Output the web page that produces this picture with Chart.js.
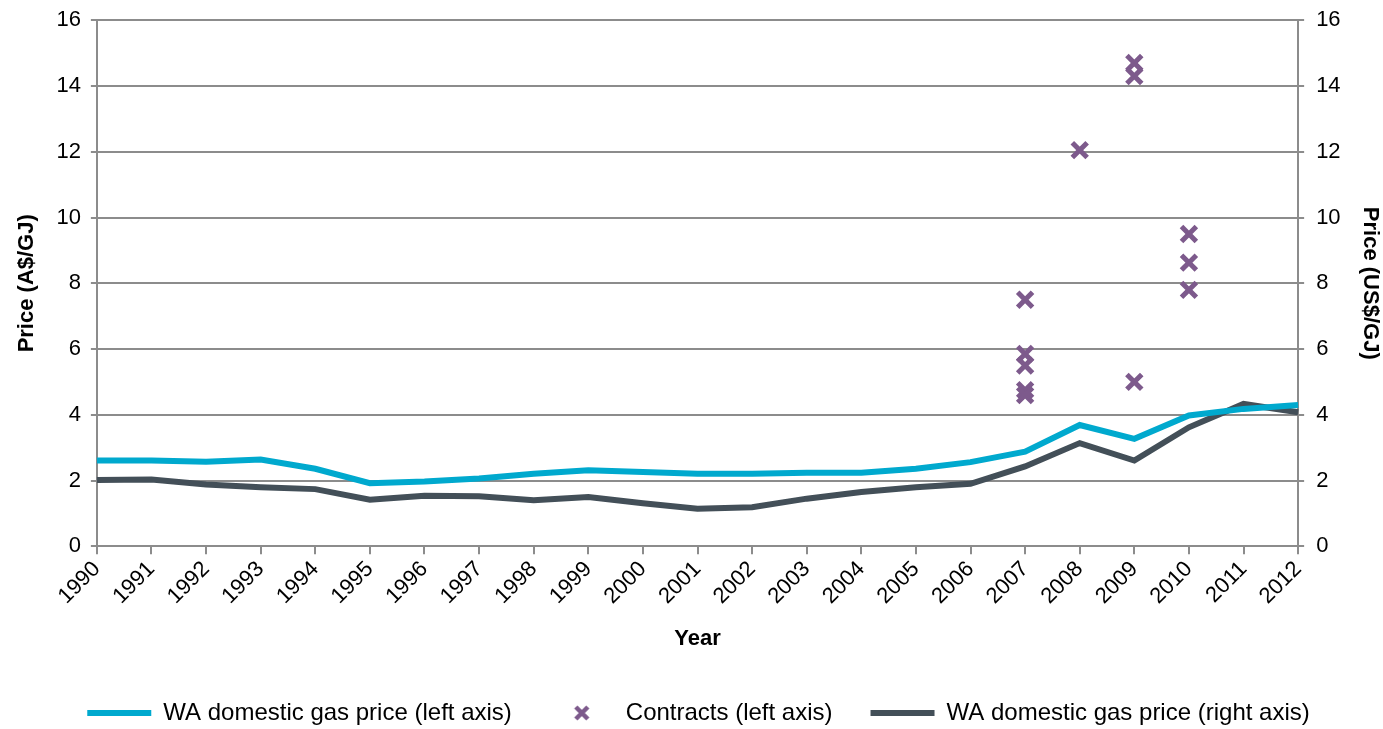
<!DOCTYPE html>
<html lang="en">

<head>
    <meta charset="UTF-8">
    <script src="https://cdn.jsdelivr.net/npm/chart.js"></script>
    <title>WA domestic gas price</title>
    <style>
        body { margin: 0; background: #fff; }
        #box { width: 1383px; height: 729px; }
    </style>
</head>

<body>
    <div id="box">
        <canvas id="grafico" width="1383" height="729"></canvas>
    </div>
</body>

</html>

<script>

    var anos = ['1990', '1991', '1992', '1993', '1994', '1995', '1996', '1997', '1998', '1999', '2000',
        '2001', '2002', '2003', '2004', '2005', '2006', '2007', '2008', '2009', '2010', '2011', '2012'];

    // preço doméstico WA, eixo esquerdo (A$/GJ)
    var precoAUD = [2.61, 2.61, 2.57, 2.64, 2.36, 1.92, 1.97, 2.06, 2.21, 2.31, 2.26,
        2.21, 2.21, 2.24, 2.24, 2.36, 2.56, 2.88, 3.69, 3.27, 3.98, 4.18, 4.30];

    // preço doméstico WA, eixo direito (US$/GJ)
    var precoUSD = [2.02, 2.03, 1.88, 1.80, 1.74, 1.42, 1.54, 1.52, 1.40, 1.50, 1.31,
        1.14, 1.19, 1.45, 1.65, 1.80, 1.90, 2.43, 3.14, 2.61, 3.62, 4.33, 4.08];

    // contratos
    var contratosAno = ['2007', '2007', '2007', '2007', '2007', '2008', '2009', '2009', '2009', '2010', '2010', '2010'];
    var contratosPreco = [7.5, 5.85, 5.5, 4.75, 4.6, 12.05, 14.7, 14.3, 5.0, 9.5, 8.63, 7.8];

    var eixoTicks = [0, 2, 4, 6, 8, 10, 12, 14, 16];

    var pontos = contratosAno.map(function (a, i) { return { x: a, y: contratosPreco[i] } });

    var familia = 'Liberation Sans, Arial, sans-serif';
    var fonte = { family: familia, size: 22 };
    var fonteY = { family: familia, size: 22, lineHeight: 0.75 };
    var fonteTitulo = { family: familia, size: 22, weight: 'bold' };
    var cinza = '#8c8c8c';
    var roxo = '#7d5a8c';

    // X pequeno para a legenda dos contratos
    var xLegenda = document.createElement('canvas');
    xLegenda.width = 20;
    xLegenda.height = 20;
    var cx = xLegenda.getContext('2d');
    cx.strokeStyle = roxo;
    cx.lineWidth = 4.5;
    cx.beginPath();
    cx.moveTo(4, 4); cx.lineTo(16, 16);
    cx.moveTo(16, 4); cx.lineTo(4, 16);
    cx.stroke();

    var ctx = grafico.getContext('2d');
    var myChart = new Chart(ctx, {
        type: 'line',
        data: {
            labels: anos,
            datasets: [{
                label: 'WA domestic gas price (left axis)',
                data: precoAUD,
                borderColor: '#00a9ce',
                backgroundColor: '#00a9ce',
                borderWidth: 6,
                pointRadius: 0,
                pointStyle: 'line',
                tension: 0,
                yAxisID: 'y',
                order: 2
            }, {
                label: 'Contracts (left axis)',
                data: pontos,
                showLine: false,
                borderColor: roxo,
                backgroundColor: roxo,
                pointStyle: 'crossRot',
                pointRadius: 10.5,
                pointBorderWidth: 5,
                borderWidth: 5,
                yAxisID: 'y',
                order: 1
            }, {
                label: 'WA domestic gas price (right axis)',
                data: precoUSD,
                borderColor: '#434f58',
                backgroundColor: '#434f58',
                borderWidth: 6,
                pointRadius: 0,
                pointStyle: 'line',
                tension: 0,
                yAxisID: 'y1',
                order: 3
            }]
        },
        options: {
            responsive: false,
            animation: false,
            layout: { padding: { left: 14, right: 0, top: 0, bottom: -6 } },
            plugins: {
                tooltip: { enabled: false },
                legend: {
                    position: 'bottom',
                    labels: {
                        usePointStyle: true,
                        pointStyleWidth: 64,
                        boxHeight: 14,
                        padding: 38,
                        color: '#000',
                        font: { family: familia, size: 24 },
                        sort: function (a, b) { return a.datasetIndex - b.datasetIndex },
                        generateLabels: function (chart) {
                            var itens = Chart.defaults.plugins.legend.labels.generateLabels(chart);
                            itens.forEach(function (it) {
                                if (it.datasetIndex === 1) it.pointStyle = xLegenda;
                            });
                            return itens;
                        }
                    }
                }
            },
            scales: {
                x: {
                    offset: false,
                    grid: { display: true, drawOnChartArea: false, color: cinza, lineWidth: 2, tickLength: 8 },
                    border: { color: cinza, width: 2 },
                    ticks: { color: '#000', font: fonte, maxRotation: 45, minRotation: 45, autoSkip: false, padding: 2 },
                    title: { display: true, text: 'Year', color: '#000', font: fonteTitulo, padding: { top: 14, bottom: 11 } }
                },
                y: {
                    position: 'left',
                    min: 0,
                    max: 16,
                    afterBuildTicks: function (axis) { axis.ticks = eixoTicks.map(function (v) { return { value: v } }) },
                    grid: { color: cinza, lineWidth: 2, tickLength: 6 },
                    border: { color: cinza, width: 2 },
                    ticks: { color: '#000', font: fonteY, padding: 10 },
                    title: { display: true, text: 'Price (A$/GJ)', color: '#000', font: fonteTitulo, padding: { top: 0, bottom: 6 } }
                },
                y1: {
                    position: 'right',
                    min: 0,
                    max: 16,
                    afterBuildTicks: function (axis) { axis.ticks = eixoTicks.map(function (v) { return { value: v } }) },
                    grid: { drawOnChartArea: false, color: cinza, lineWidth: 2, tickLength: 6 },
                    border: { color: cinza, width: 2 },
                    ticks: { color: '#000', font: fonteY, padding: 12 },
                    title: { display: true, text: 'Price (US$/GJ)', color: '#000', font: fonteTitulo, padding: { top: 0, bottom: 4 } }
                }
            }
        }
    });

</script>
